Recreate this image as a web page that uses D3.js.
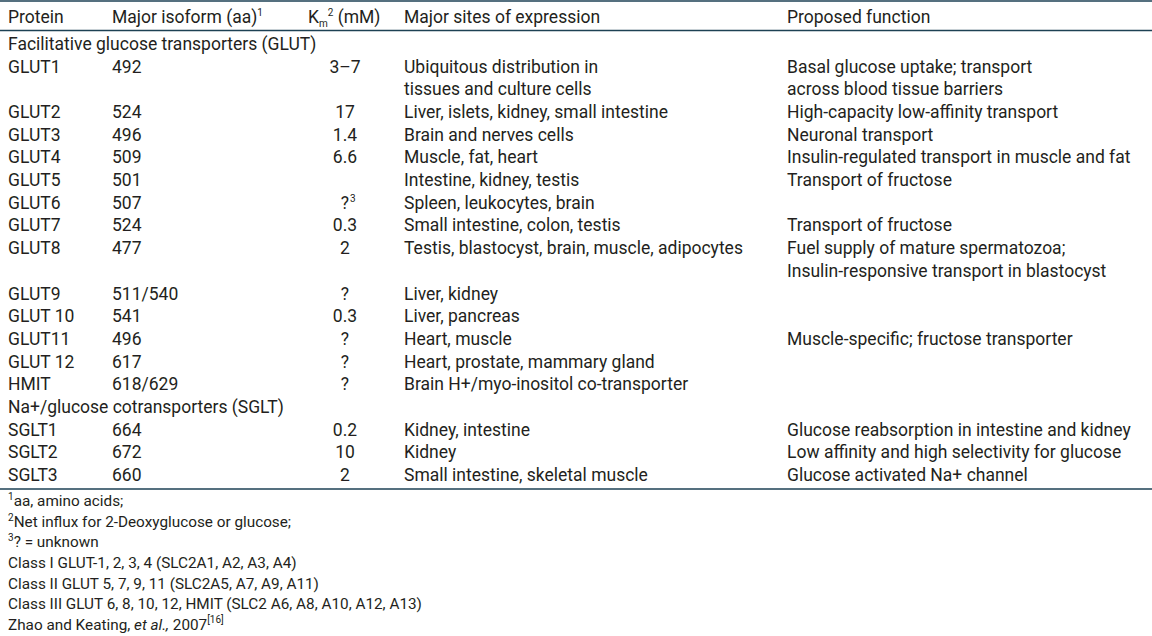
<!DOCTYPE html>
<html>
<head>
<meta charset="utf-8">
<script src="https://cdn.jsdelivr.net/npm/d3@7"></script>
<style>
  html, body { margin: 0; padding: 0; background: #fff; }
  svg { display: block; }
  text { font-family: Roboto, "Noto Sans", sans-serif; fill: #231f20; }
  .cell { font-size: 17.5px; }
  .note { font-size: 15.3px; }
  .sup { font-size: 10px; }
  .rule { stroke: #1d4154; stroke-width: 1.5; }
</style>
</head>
<body>
<svg id="tbl"></svg>
<script>
// table content, one array per column
const headers = ["Protein", "Major isoform (aa)", "K", "Major sites of expression", "Proposed function"];
const groups = [
  { title: "Facilitative glucose transporters (GLUT)", before: "GLUT1" },
  { title: "Na+/glucose cotransporters (SGLT)", before: "SGLT1" },
];
const proteins = ["GLUT1", "GLUT2", "GLUT3", "GLUT4", "GLUT5", "GLUT6", "GLUT7", "GLUT8", "GLUT9",
  "GLUT 10", "GLUT11", "GLUT 12", "HMIT", "SGLT1", "SGLT2", "SGLT3"];
const isoforms = ["492", "524", "496", "509", "501", "507", "524", "477", "511/540",
  "541", "496", "617", "618/629", "664", "672", "660"];
const kms = ["3–7", "17", "1.4", "6.6", "", "?", "0.3", "2", "?", "0.3", "?", "?", "?", "0.2", "10", "2"];
const kmNotes = ["", "", "", "", "", "3", "", "", "", "", "", "", "", "", "", ""];
const sites = [
  ["Ubiquitous distribution in", "tissues and culture cells"],
  ["Liver, islets, kidney, small intestine"],
  ["Brain and nerves cells"],
  ["Muscle, fat, heart"],
  ["Intestine, kidney, testis"],
  ["Spleen, leukocytes, brain"],
  ["Small intestine, colon, testis"],
  ["Testis, blastocyst, brain, muscle, adipocytes"],
  ["Liver, kidney"],
  ["Liver, pancreas"],
  ["Heart, muscle"],
  ["Heart, prostate, mammary gland"],
  ["Brain H+/myo-inositol co-transporter"],
  ["Kidney, intestine"],
  ["Kidney"],
  ["Small intestine, skeletal muscle"],
];
const functions = [
  ["Basal glucose uptake; transport", "across blood tissue barriers"],
  ["High-capacity low-affinity transport"],
  ["Neuronal transport"],
  ["Insulin-regulated transport in muscle and fat"],
  ["Transport of fructose"],
  [],
  ["Transport of fructose"],
  ["Fuel supply of mature spermatozoa;", "Insulin-responsive transport in  blastocyst"],
  [],
  [],
  ["Muscle-specific; fructose transporter"],
  [],
  [],
  ["Glucose reabsorption in intestine and kidney"],
  ["Low affinity and high selectivity for glucose"],
  ["Glucose activated Na+ channel"],
];
const footnotes = [
  { sup: "1", text: "aa, amino acids;" },
  { sup: "2", text: "Net influx for 2-Deoxyglucose or glucose;" },
  { sup: "3", text: "? = unknown" },
  { sup: "", text: "Class I GLUT-1, 2, 3, 4 (SLC2A1, A2, A3, A4)" },
  { sup: "", text: "Class II GLUT 5, 7, 9, 11 (SLC2A5, A7, A9, A11)" },
  { sup: "", text: "Class III GLUT 6, 8, 10, 12, HMIT (SLC2 A6, A8, A10, A12, A13)" },
];

const W = 1152, H = 636;
const svg = d3.select("#tbl").attr("width", W).attr("height", H);

// column x positions
const colX = { protein: 8, iso: 112, km: 345, site: 404, fn: 787 };

// build line layout: each body line gets an index, scale maps index -> baseline
const lines = [];
proteins.forEach((p, i) => {
  const g = groups.find((d) => d.before === p);
  if (g) lines.push({ type: "group", text: g.title });
  const n = Math.max(1, sites[i].length, functions[i].length);
  lines.push({ type: "row", i: i });
  for (let k = 1; k < n; k++) lines.push({ type: "cont" });
});
const rowLine = new Map();
lines.forEach((l, j) => { if (l.type === "row") rowLine.set(l.i, j); });

const y = d3.scaleLinear().domain([0, lines.length - 1]).range([50, 481]);
const yNote = d3.scaleLinear().domain([0, 6]).range([506, 630]);

// rules
svg.append("line").attr("class", "rule").attr("x1", 0).attr("x2", W).attr("y1", 1).attr("y2", 1);
svg.append("line").attr("class", "rule").attr("x1", 0).attr("x2", W).attr("y1", 30.5).attr("y2", 30.5);
svg.append("line").attr("class", "rule").attr("x1", 0).attr("x2", W).attr("y1", 489).attr("y2", 489);

// header
const hY = 23;
const hd = svg.append("g").attr("class", "cell");
hd.append("text").attr("x", colX.protein).attr("y", hY).text(headers[0]);
const iso = hd.append("text").attr("x", colX.iso).attr("y", hY).text(headers[1]);
iso.append("tspan").attr("class", "sup").attr("dy", -7).text("1");
const km = hd.append("text").attr("x", 308).attr("y", hY).text(headers[2]);
km.append("tspan").attr("class", "sup").attr("dy", 4).text("m");
km.append("tspan").attr("class", "sup").attr("dy", -11).text("2");
km.append("tspan").attr("dy", 7).text(" (mM)");
hd.append("text").attr("x", colX.site).attr("y", hY).text(headers[3]);
hd.append("text").attr("x", colX.fn).attr("y", hY).text(headers[4]);

// body
const body = svg.append("g").attr("class", "cell");
body.selectAll("text.group")
  .data(lines.map((l, j) => ({ ...l, j })).filter((l) => l.type === "group"))
  .join("text")
  .attr("class", "group")
  .attr("x", colX.protein)
  .attr("y", (d) => y(d.j))
  .text((d) => d.text);

const rows = body.selectAll("g.row")
  .data(proteins.map((p, i) => i))
  .join("g")
  .attr("class", "row")
  .attr("transform", (i) => `translate(0,${y(rowLine.get(i))})`);

rows.append("text").attr("x", colX.protein).text((i) => proteins[i]);
rows.append("text").attr("x", colX.iso).text((i) => isoforms[i]);
rows.append("text").attr("x", colX.km).attr("text-anchor", "middle").text((i) => kms[i]);
rows.filter((i) => kmNotes[i])
  .append("text").attr("class", "sup").attr("x", colX.km + 5).attr("y", -7).text((i) => kmNotes[i]);

const step = y(1) - y(0);
rows.each(function (i) {
  const g = d3.select(this);
  g.selectAll("text.site").data(sites[i]).join("text").attr("class", "site")
    .attr("x", colX.site).attr("y", (d, k) => k * step).text((d) => d);
  g.selectAll("text.fn").data(functions[i]).join("text").attr("class", "fn")
    .attr("x", colX.fn).attr("y", (d, k) => k * step).text((d) => d);
});

// footnotes
const notes = svg.append("g").attr("class", "note");
notes.selectAll("text.fnote")
  .data(footnotes)
  .join("text")
  .attr("class", "fnote")
  .attr("x", colX.protein)
  .attr("y", (d, k) => yNote(k))
  .each(function (d) {
    const t = d3.select(this);
    if (d.sup) t.append("tspan").attr("class", "sup").attr("dy", -6).text(d.sup);
    t.append("tspan").attr("dy", d.sup ? 6 : 0).text(d.text);
  });
const src = notes.append("text").attr("x", colX.protein).attr("y", yNote(6));
src.append("tspan").text("Zhao and Keating, ");
src.append("tspan").style("font-style", "italic").text("et al.,");
src.append("tspan").text(" 2007");
src.append("tspan").attr("class", "sup").attr("dy", -7).text("[16]");
</script>
</body>
</html>
